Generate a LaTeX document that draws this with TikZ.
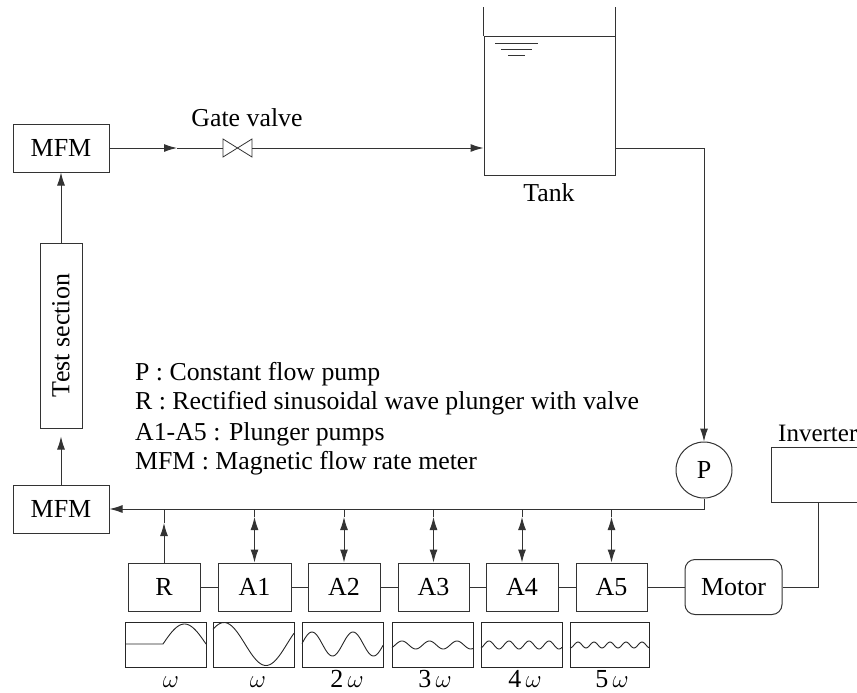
\documentclass[tikz,border=0pt]{standalone}
\usepackage{fontspec}
\setmainfont{Liberation Serif}
\usetikzlibrary{arrows.meta}

\tikzset{
    box/.style={rectangle, draw=black!80, line width=1pt, inner sep=0pt, font=\fontsize{26}{28}\selectfont},
    wavebox/.style={rectangle, draw=black!85, line width=1pt, minimum width=#1, minimum height=45pt, inner sep=0pt},
    caption/.style={inner sep=0pt, font=\fontsize{25.8}{28}\selectfont},
    freq/.style={inner sep=0pt, anchor=base, font=\fontsize{26}{28}\selectfont},
    pipe/.style={draw=black!80, line width=1pt},
    arrow/.style={pipe, -{Latex[length=13pt, width=8pt]}},
    twoway/.style={pipe, {Latex[length=13pt, width=8pt]}-{Latex[length=13pt, width=8pt]}},
    wave/.style={black!85, line width=0.9pt, smooth}
}

\begin{document}
\begin{tikzpicture}[x=1pt, y=-1pt]
\useasboundingbox (0,0) rectangle (857,693);
\clip (0,0) rectangle (857,693);

% Nodes
\node (MFMtop) [box, minimum width=96pt, minimum height=48pt] at (61,148) {MFM};
\node (MFMbot) [box, minimum width=96pt, minimum height=48pt] at (61,509) {MFM};
\node (Test) [box, minimum width=42pt, minimum height=185pt] at (61,335.5) {\rotatebox{90}{Test section}};
\node (P) [circle, draw=black!80, line width=1pt, minimum size=56pt, inner sep=0pt, font=\fontsize{26}{28}\selectfont] at (704,470) {P};

\node (R) [box, minimum width=72pt, minimum height=48pt] at (164,587) {R};
\node (A1) [box, minimum width=73pt, minimum height=48pt] at (254.5,587) {A1};
\node (A2) [box, minimum width=72pt, minimum height=48pt] at (344,587) {A2};
\node (A3) [box, minimum width=71pt, minimum height=48pt] at (433.5,587) {A3};
\node (A4) [box, minimum width=72pt, minimum height=48pt] at (522,587) {A4};
\node (A5) [box, minimum width=71pt, minimum height=48pt] at (611.5,587) {A5};
\node (Motor) [box, rounded corners=10pt, minimum width=97pt, minimum height=55pt] at (733.5,587) {Motor};
\node (Inv) [box, minimum width=120pt, minimum height=55pt] at (831,474.5) {};
\node [caption, anchor=base west, font=\fontsize{25}{28}\selectfont] at (778,441) {Inverter};

% Tank
\node (Tank) [box, minimum width=131pt, minimum height=138pt] at (549.5,106) {};
\draw [pipe] (Tank.north west) -- ++(0,-29);
\draw [pipe] (Tank.north east) -- ++(0,-29);
\draw [pipe, line width=0.8pt] (495,43) -- (538,43) (501,49) -- (532,49) (508,55) -- (525,55);
\node [caption, anchor=base] at (549,201) {Tank};

% Gate valve
\coordinate (ValveL) at (223,148);
\coordinate (ValveR) at (252,148);
\draw [pipe, line width=0.8pt] (223,139) -- (252,157) -- (252,139) -- (223,157) -- cycle;
\node [caption, anchor=base] at (247,126) {Gate valve};

% Legend
\node [caption, anchor=base west] at (135,380) {P : Constant flow pump};
\node [caption, anchor=base west] at (135,409) {R : Rectified sinusoidal wave plunger with valve};
\node [caption, anchor=base west] at (135,440) {A1-A5 : Plunger pumps};
\node [caption, anchor=base west] at (135,469) {MFM : Magnetic flow rate meter};

% Waves
\node (W0) [wavebox=81pt] at (165.5,644.5) {};
\node (W1) [wavebox=81pt] at (253.5,644.5) {};
\node (W2) [wavebox=81pt] at (342.5,644.5) {};
\node (W3) [wavebox=81pt] at (432.5,644.5) {};
\node (W4) [wavebox=81pt] at (521.5,644.5) {};
\node (W5) [wavebox=79pt] at (609.5,644.5) {};
\draw [wave] (125,644) -- (163,644) plot [domain=163:206, samples=30] (\x,{644-20*sin(180/43*(\x-163))});
\draw [wave] plot [domain=213:294, samples=50] (\x,{644-21.5*cos(360/84*(\x-224))});
\draw [wave] plot [domain=302:383, samples=60] (\x,{644-12*cos(360/41*(\x-312))});
\draw [wave] plot [domain=392:473, samples=70] (\x,{645-4*cos(360/27.5*(\x-402))});
\draw [wave] plot [domain=481:562, samples=80] (\x,{645-4*cos(18*(\x-489))});
\draw [wave] plot [domain=570:649, samples=90] (\x,{645-3*cos(22.5*(\x-578))});
\node [freq] at (171,687) {$\omega$};
\node [freq] at (258,687) {$\omega$};
\node [freq] at (347,687) {2\,$\omega$};
\node [freq] at (435,687) {3\,$\omega$};
\node [freq] at (525,687) {4\,$\omega$};
\node [freq] at (612,687) {5\,$\omega$};

% Arrows
\coordinate (JP) at (P.south |- MFMbot.east);
\coordinate (FlowMid) at (177,148);
\coordinate (InvDrop) at (818,502);
\coordinate (RTip) at (164,523);
\draw [arrow, shorten >=8pt] (MFMbot.north) -- (Test.south);
\draw [arrow] (Test.north) -- (MFMtop.south);
\draw [arrow] (MFMtop.east) -- (FlowMid);
\draw [pipe] (FlowMid) -- (ValveL);
\draw [arrow] (ValveR) -- (Tank.west |- ValveR);
\draw [arrow] (Tank.east |- ValveR) -| (P.north);
\draw [arrow] (P.south) |- (MFMbot.east);
\draw [arrow] (R.north) -- (RTip);
\draw [pipe] (RTip) -- (R.north |- JP);
\foreach \n in {A1,A2,A3,A4,A5}
    \draw [twoway] (\n.north |- JP) ++(0,8) -- (\n.north);
\foreach \n in {A1,A2,A3,A4,A5}
    \draw [pipe] (\n.north |- JP) -- ++(0,8);
\draw [pipe] (R) -- (A1);
\draw [pipe] (A1) -- (A2);
\draw [pipe] (A2) -- (A3);
\draw [pipe] (A3) -- (A4);
\draw [pipe] (A4) -- (A5);
\draw [pipe] (A5) -- (Motor);
\draw [pipe] (Motor.east) -| (InvDrop);

\end{tikzpicture}
\end{document}
